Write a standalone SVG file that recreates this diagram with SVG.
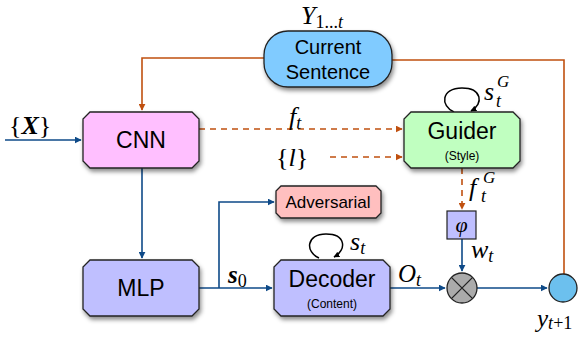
<svg xmlns="http://www.w3.org/2000/svg" width="587" height="341" viewBox="0 0 587 341">
<defs>
<filter id="sh" x="-10%" y="-10%" width="130%" height="140%">
<feDropShadow dx="1.5" dy="3" stdDeviation="2" flood-color="#000" flood-opacity="0.45"/>
</filter>
<marker id="ab" viewBox="0 0 10 10" refX="9" refY="5" markerWidth="7" markerHeight="7" orient="auto" markerUnits="userSpaceOnUse"><path d="M0,0 L10,5 L0,10 Z" fill="#0E4A88"/></marker>
<marker id="ao" viewBox="0 0 10 10" refX="9" refY="5" markerWidth="7" markerHeight="7" orient="auto" markerUnits="userSpaceOnUse"><path d="M0,0 L10,5 L0,10 Z" fill="#C0500F"/></marker>
<marker id="ak" viewBox="0 0 10 10" refX="9" refY="5" markerWidth="6" markerHeight="6" orient="auto" markerUnits="userSpaceOnUse"><path d="M0,0 L10,5 L0,10 Z" fill="#000"/></marker>
</defs>
<style>
.box{stroke:#222;stroke-width:1.3;filter:url(#sh)}
.lbl{font-family:"Liberation Sans",Arial,sans-serif;fill:#000;text-anchor:middle}
.m{font-family:"Liberation Serif","Times New Roman",serif;font-style:italic;fill:#000}
.mr{font-family:"Liberation Serif","Times New Roman",serif;fill:#000}
.b{stroke:#0E4A88;stroke-width:1.6;fill:none}
.o{stroke:#C0500F;stroke-width:1.6;fill:none}
.od{stroke:#C0500F;stroke-width:1.6;fill:none;stroke-dasharray:6 5}
.loop{stroke:#000;stroke-width:1.5;fill:none}
</style>
<g id="connectors">
<path class="o" d="M264,58 H142 V110" marker-end="url(#ao)"/>
<path class="o" d="M392,60 H564 V274"/>
<path class="od" d="M199,129 H402" marker-end="url(#ao)"/>
<path class="od" d="M330,157 H402" marker-end="url(#ao)"/>
<path class="od" d="M462,168 V209" marker-end="url(#ao)"/>
<path class="b" d="M5,140 H81" marker-end="url(#ab)"/>
<path class="b" d="M142,168 V258" marker-end="url(#ab)"/>
<path class="b" d="M199,288 H272" marker-end="url(#ab)"/>
<path class="b" d="M219,288 V202 H274" marker-end="url(#ab)"/>
<path class="b" d="M390,288 H445" marker-end="url(#ab)"/>
<path class="b" d="M462,239 V271" marker-end="url(#ab)"/>
<path class="b" d="M477,288 H547" marker-end="url(#ab)"/>
<path class="loop" d="M454,112 C440,106 441,88 462,88 C482,88 484,104 471,111" marker-end="url(#ak)"/>
<path class="loop" d="M319,258 C305,252 306,234 326,234 C346,234 347,250 334,257" marker-end="url(#ak)"/>
</g>
<g id="current-sentence">
<rect class="box" x="264" y="31" width="128" height="56" rx="24" ry="24" fill="#80CBFF"/>
<text class="lbl" x="328" y="54" font-size="20">Current</text>
<text class="lbl" x="328" y="79" font-size="20">Sentence</text>
</g>
<g id="cnn">
<polygon class="box" points="90,112 192,112 199,119 199,161 192,168 90,168 83,161 83,119" fill="#FFBFFF"/>
<text class="lbl" x="141" y="148" font-size="23">CNN</text>
</g>
<g id="guider">
<polygon class="box" points="411,112 513,112 520,119 520,161 513,168 411,168 404,161 404,119" fill="#C0FFC0"/>
<text class="lbl" x="462" y="139" font-size="23">Guider</text>
<text class="lbl" x="462" y="160" font-size="12">(Style)</text>
</g>
<g id="adversarial">
<polygon class="box" points="281,186 376,186 381,191 381,213 376,218 281,218 276,213 276,191" fill="#FFBFBF"/>
<text class="lbl" x="328" y="208" font-size="17">Adversarial</text>
</g>
<g id="mlp">
<polygon class="box" points="90,260 192,260 199,267 199,309 192,316 90,316 83,309 83,267" fill="#BFBFFF"/>
<text class="lbl" x="141" y="296" font-size="23">MLP</text>
</g>
<g id="decoder">
<polygon class="box" points="281,260 383,260 390,267 390,309 383,316 281,316 274,309 274,267" fill="#BFBFFF"/>
<text class="lbl" x="332" y="287" font-size="23">Decoder</text>
<text class="lbl" x="332" y="308" font-size="12">(Content)</text>
</g>
<g id="phi">
<rect x="447" y="211" width="29" height="28" fill="#BFBFFF" stroke="#222" stroke-width="1.2"/>
<text class="m" x="461.5" y="232" font-size="22" text-anchor="middle">φ</text>
</g>
<g id="multiply">
<circle cx="462" cy="288" r="15" fill="#ABABAB" stroke="#222" stroke-width="1.3"/>
<path d="M451.4,277.4 L472.6,298.6 M472.6,277.4 L451.4,298.6" stroke="#222" stroke-width="1.3"/>
</g>
<g id="output">
<circle cx="563" cy="288" r="14" fill="#6CC0EE" stroke="#222" stroke-width="1.3"/>
</g>
<g id="labels">
<text class="m" x="301" y="24" font-size="26">Y<tspan class="mr" font-size="18" font-style="normal" dy="4">1...</tspan><tspan font-size="18" font-style="italic">t</tspan></text>
<text class="mr" x="9" y="134" font-size="26">{<tspan class="m" font-weight="bold">X</tspan>}</text>
<text class="m" x="289" y="125" font-size="26">f<tspan font-size="18" dy="4">t</tspan></text>
<text class="mr" x="276" y="166" font-size="26">{<tspan class="m">l</tspan>}</text>
<text class="m" x="484" y="100" font-size="26">s</text>
<text class="m" x="496" y="107" font-size="18">t</text>
<text class="m" x="497" y="87" font-size="17">G</text>
<text class="m" x="469" y="196" font-size="26">f</text>
<text class="m" x="481" y="202" font-size="18">t</text>
<text class="m" x="483" y="183" font-size="17">G</text>
<text class="m" x="471" y="258" font-size="26">w<tspan font-size="18" dy="4">t</tspan></text>
<text class="m" x="350" y="250" font-size="26">s<tspan font-size="18" dy="4">t</tspan></text>
<text class="m" x="228" y="283" font-size="25" font-weight="bold">s<tspan class="mr" font-size="18" font-weight="normal" font-style="normal" dy="4">0</tspan></text>
<text class="m" x="398" y="282" font-size="25">O<tspan font-size="18" dy="4">t</tspan></text>
<text class="m" x="537" y="327" font-size="25">y<tspan font-size="18" dy="2">t</tspan><tspan class="mr" font-size="18" font-style="normal">+1</tspan></text>
</g>
</svg>
